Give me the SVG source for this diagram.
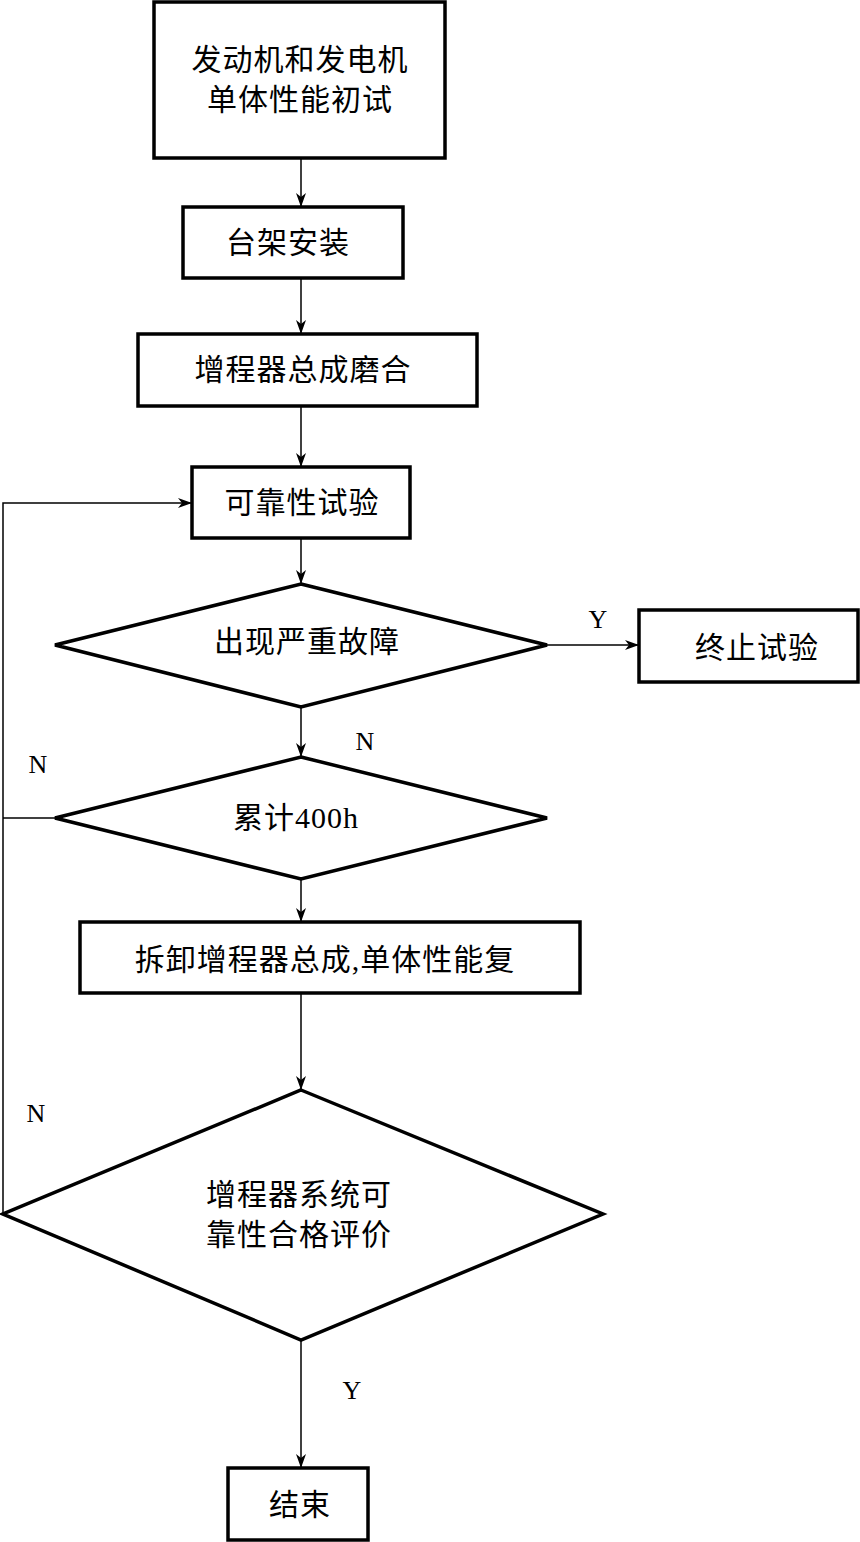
<svg xmlns="http://www.w3.org/2000/svg" width="860" height="1542" viewBox="0 0 860 1542">
<style>
.box{fill:#fff;stroke:#000;stroke-width:3.5}
.ln{fill:none;stroke:#000;stroke-width:1.5}
.t{font-family:"Liberation Serif","Noto Sans CJK SC",serif;font-size:30px;fill:#000;text-anchor:middle;letter-spacing:1px}
.l{font-family:"Liberation Serif","Noto Sans CJK SC",serif;font-size:26px;fill:#000;text-anchor:middle}
</style>
<defs>
<marker id="ah" markerWidth="14" markerHeight="10" refX="13" refY="5" orient="auto" markerUnits="userSpaceOnUse">
<path d="M0,0 L14,5 L0,10 L4,5 Z" fill="#000"/>
</marker>
</defs>
<rect width="860" height="1542" fill="#fff"/>
<g id="connectors">
<line class="ln" x1="301" y1="158" x2="301" y2="206" marker-end="url(#ah)"/>
<line class="ln" x1="301" y1="278" x2="301" y2="333" marker-end="url(#ah)"/>
<line class="ln" x1="301" y1="406" x2="301" y2="466" marker-end="url(#ah)"/>
<line class="ln" x1="301" y1="538" x2="301" y2="583" marker-end="url(#ah)"/>
<line class="ln" x1="301" y1="707" x2="301" y2="756" marker-end="url(#ah)"/>
<line class="ln" x1="301" y1="879" x2="301" y2="921" marker-end="url(#ah)"/>
<line class="ln" x1="301" y1="993" x2="301" y2="1089" marker-end="url(#ah)"/>
<line class="ln" x1="301" y1="1340" x2="301" y2="1467" marker-end="url(#ah)"/>
<line class="ln" x1="547" y1="645" x2="638" y2="645" marker-end="url(#ah)"/>
<polyline class="ln" points="3,1214 3,503 191,503" marker-end="url(#ah)"/>
<line class="ln" x1="3" y1="818" x2="55" y2="818"/>
<text class="l" x="598" y="628">Y</text>
<text class="l" x="365" y="750">N</text>
<text class="l" x="38" y="773">N</text>
<text class="l" x="36" y="1122">N</text>
<text class="l" x="352" y="1399">Y</text>
</g>
<g id="n1"><rect class="box" x="154" y="2" width="291" height="156"/>
<text class="t" x="300" y="70">发动机和发电机</text><text class="t" x="300" y="110">单体性能初试</text></g>
<g id="n2"><rect class="box" x="183" y="207" width="220" height="71"/><text class="t" x="288" y="253">台架安装</text></g>
<g id="n3"><rect class="box" x="138" y="334" width="339" height="72"/><text class="t" x="303" y="380">增程器总成磨合</text></g>
<g id="n4"><rect class="box" x="192" y="467" width="218" height="71"/><text class="t" x="302" y="513">可靠性试验</text></g>
<g id="n5"><polygon class="box" points="301,584 547,645 301,707 55,645"/><text class="t" x="307" y="652">出现严重故障</text></g>
<g id="n6"><rect class="box" x="639" y="610" width="219" height="72"/><text class="t" x="757" y="658">终止试验</text></g>
<g id="n7"><polygon class="box" points="301,757 547,818 301,879 55,818"/><text class="t" x="296" y="828">累计400h</text></g>
<g id="n8"><rect class="box" x="80" y="922" width="500" height="71"/><text class="t" x="325" y="970">拆卸增程器总成,单体性能复</text></g>
<g id="n9"><polygon class="box" points="301,1090 603,1214 301,1340 3,1214"/>
<text class="t" x="299" y="1205">增程器系统可</text><text class="t" x="299" y="1245">靠性合格评价</text></g>
<g id="n10"><rect class="box" x="228" y="1468" width="140" height="72"/><text class="t" x="300" y="1515">结束</text></g>
</svg>
